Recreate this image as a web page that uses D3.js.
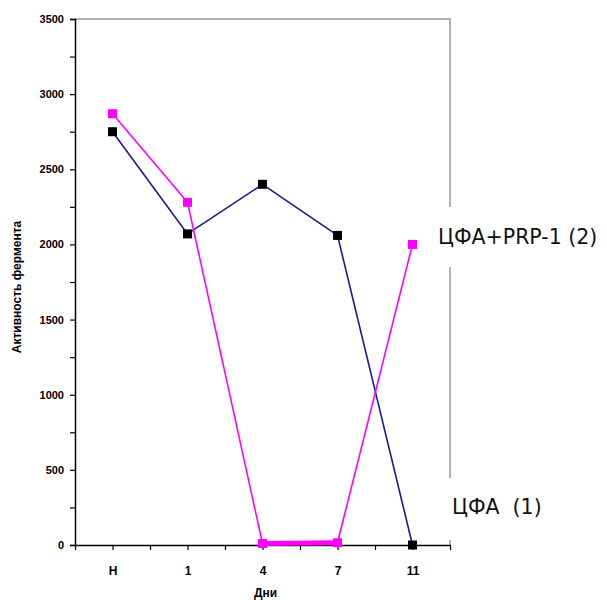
<!DOCTYPE html>
<html>
<head>
<meta charset="utf-8">
<script src="https://d3js.org/d3.v7.min.js"></script>
<style>
  body { margin: 0; background: #fff; }
  svg { display: block; }
</style>
</head>
<body>
<div id="chart"></div>
<script>
// данные графика
const days = ['Н', '1', '4', '7', '11'];
const dayPos = [1, 3, 5, 7, 9];
const cfa = [2750, 2070, 2400, 2060, 0];          // ЦФА (1)
const cfaPrp = [2870, 2280, 10, 15, 2000];        // ЦФА+PRP-1 (2)
const yTicks = [0, 500, 1000, 1500, 2000, 2500, 3000, 3500];
const seriesLabels = ['ЦФА  (1)', 'ЦФА+PRP-1 (2)'];

const W = 607, H = 600;
const mLeft = 75, mRight = 450, mTop = 19, mBottom = 545;

const svg = d3.select('#chart').append('svg')
  .attr('width', W).attr('height', H);

const x = d3.scaleLinear().domain([0, 10]).range([mLeft, mRight]);
const y = d3.scaleLinear().domain([0, 3500]).range([mBottom, mTop]);

// серая рамка (верх и право)
svg.append('path')
  .attr('d', `M${mLeft},${mTop}H${mRight}V${mBottom}`)
  .attr('fill', 'none').attr('stroke', '#9a9a9a').attr('stroke-width', 1.5);

// ось Y
const yAxis = d3.axisLeft(y)
  .tickValues(d3.range(0, 3501, 250))
  .tickSize(5)
  .tickFormat(d => yTicks.includes(d) ? d : '');
const gy = svg.append('g').attr('transform', `translate(${mLeft},0)`).call(yAxis);
gy.select('.domain').attr('stroke', '#000').attr('stroke-width', 1.5);
gy.selectAll('.tick line').attr('stroke', '#000').attr('stroke-width', 1.2);
gy.selectAll('text')
  .attr('font-family', 'Arial, "Liberation Sans", sans-serif')
  .attr('font-size', 11).attr('font-weight', 'bold').attr('fill', '#000')
  .attr('x', -11);

// ось X
const xAxis = d3.axisBottom(x)
  .tickValues(d3.range(0, 11, 1))
  .tickSize(5)
  .tickSizeOuter(0)
  .tickFormat(d => {
    const i = dayPos.indexOf(d);
    return i >= 0 ? days[i] : '';
  });
const gx = svg.append('g').attr('transform', `translate(0,${mBottom})`).call(xAxis);
gx.select('.domain').attr('stroke', '#000').attr('stroke-width', 1.5);
gx.selectAll('.tick line').attr('stroke', '#000').attr('stroke-width', 1.2);
gx.selectAll('text')
  .attr('font-family', 'Arial, "Liberation Sans", sans-serif')
  .attr('font-size', 12).attr('font-weight', 'bold').attr('fill', '#000')
  .attr('y', 21);

// подписи осей
svg.append('text')
  .attr('transform', `translate(21,${(mTop + mBottom) / 2 + 5}) rotate(-90)`)
  .attr('text-anchor', 'middle')
  .attr('font-family', 'Arial, "Liberation Sans", sans-serif')
  .attr('font-size', 12).attr('font-weight', 'bold')
  .text('Активность фермента');

svg.append('text')
  .attr('x', x(5) + 3).attr('y', 597)
  .attr('text-anchor', 'middle')
  .attr('font-family', 'Arial, "Liberation Sans", sans-serif')
  .attr('font-size', 12).attr('font-weight', 'bold')
  .text('Дни');

function drawSeries(values, lineColor, markerColor) {
  // отрезки: почти нулевые участки рисуются толще (как на оригинале)
  for (let i = 0; i < values.length - 1; i++) {
    const flat = values[i] < 50 && values[i + 1] < 50;
    svg.append('line')
      .attr('x1', x(dayPos[i])).attr('y1', y(values[i]))
      .attr('x2', x(dayPos[i + 1])).attr('y2', y(values[i + 1]))
      .attr('stroke', lineColor)
      .attr('stroke-width', flat ? 5 : 1.6);
  }
  svg.selectAll(null).data(values).enter().append('rect')
    .attr('x', (d, i) => x(dayPos[i]) - 4.5)
    .attr('y', d => y(d) - 4.5)
    .attr('width', 9).attr('height', 9)
    .attr('fill', markerColor);
}

drawSeries(cfa, '#1c1c8a', '#000');
drawSeries(cfaPrp, '#ff00ff', '#ff00ff');

// подписи серий (перекрывают серую рамку)
function seriesLabel(text, lx, ly, gapTop, gapBottom) {
  svg.append('rect')
    .attr('x', mRight - 2).attr('y', gapTop)
    .attr('width', 4).attr('height', gapBottom - gapTop)
    .attr('fill', '#fff');
  svg.append('text')
    .attr('x', lx).attr('y', ly)
    .attr('font-family', '"DejaVu Sans", Tahoma, sans-serif')
    .attr('font-size', 20.5)
    .attr('fill', '#111')
    .style('white-space', 'pre')
    .text(text);
}
seriesLabel(seriesLabels[1], 438, 244, 207, 267);
seriesLabel(seriesLabels[0], 452, 514, 478, 540);
</script>
</body>
</html>
